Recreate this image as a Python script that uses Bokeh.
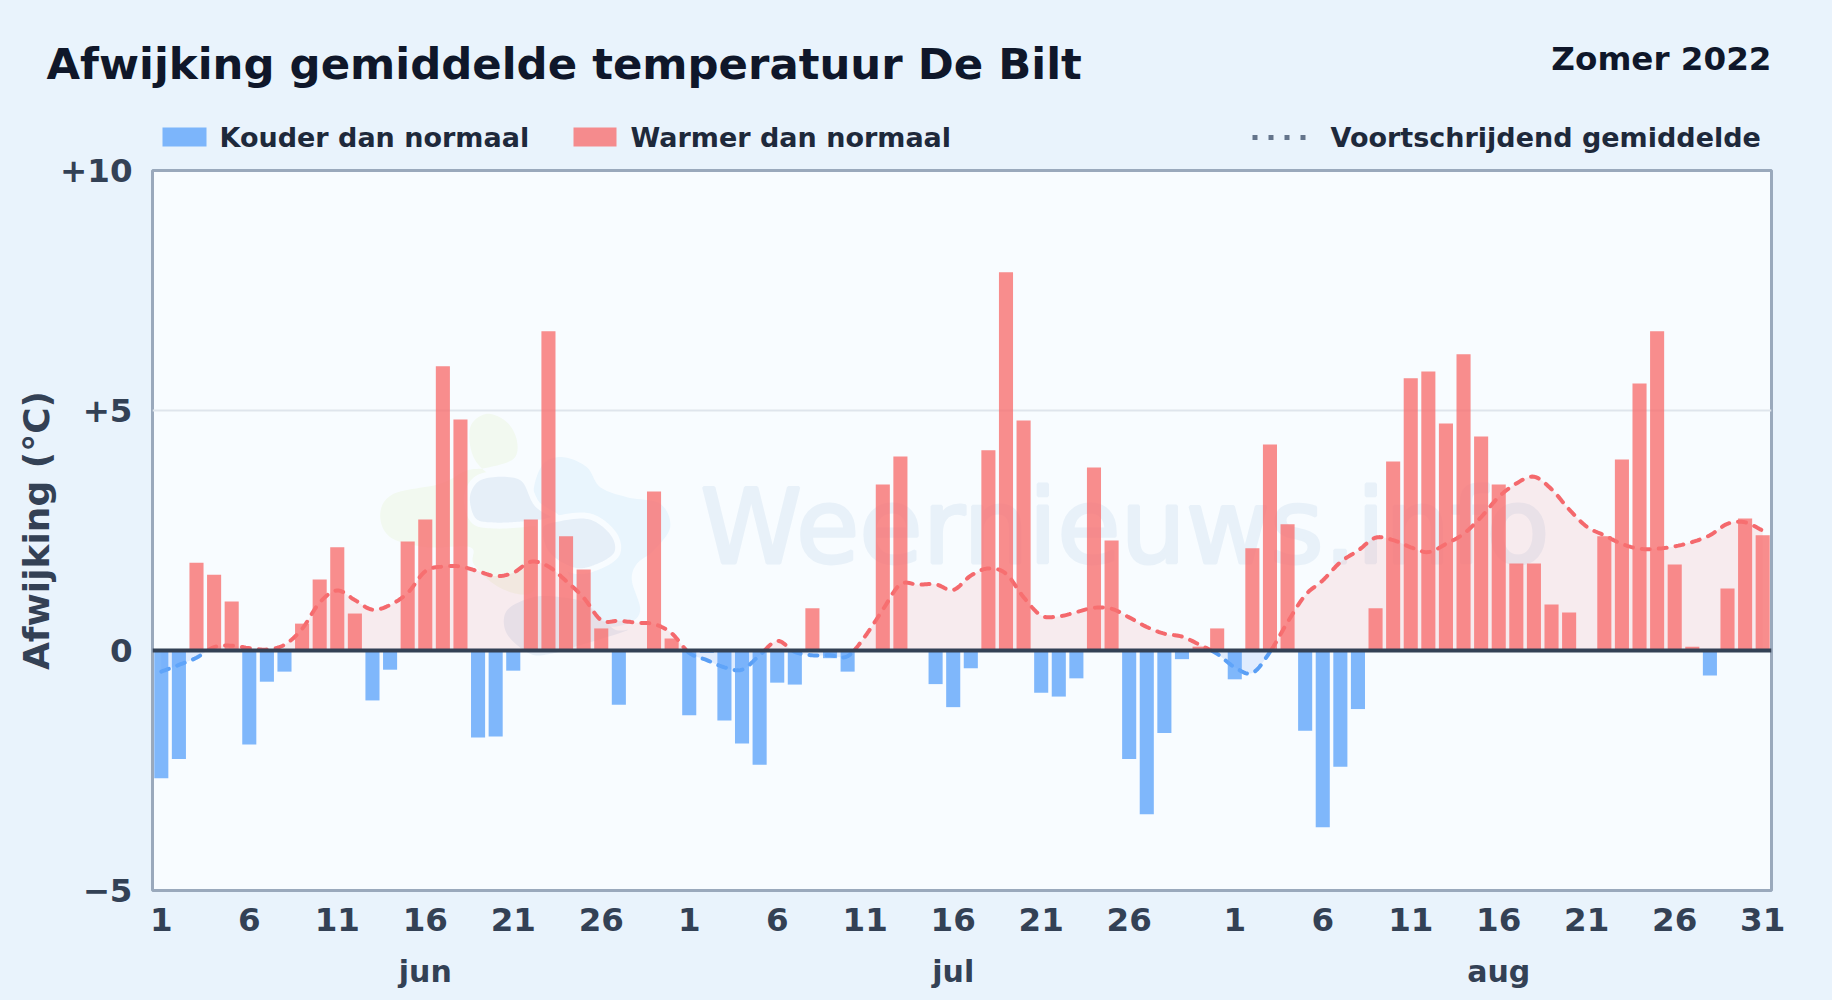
import numpy as np
from bokeh.plotting import figure
from bokeh.models import Range1d, FixedTicker, LinearAxis, Span, GlobalInlineStyleSheet
from bokeh.core.properties import value
from bokeh.embed import file_html
from bokeh.resources import INLINE

# ---- data: deviation per day, 1 jun .. 31 aug 2022 ----
afwijking = [
    -2.66, -2.26, 1.83, 1.58, 1.02, -1.96, -0.65, -0.44, 0.56, 1.48,
    2.15, 0.77, -1.04, -0.40, 2.27, 2.73, 5.92, 4.81, -1.81, -1.79,
    -0.42, 2.73, 6.65, 2.38, 1.69, 0.46, -1.13, 0.0, 3.31, 0.25,
    -1.35, -0.05, -1.46, -1.94, -2.38, -0.67, -0.71, 0.88, -0.16, -0.44,
    0.0, 3.46, 4.04, 0.0, -0.70, -1.18, -0.37, 4.17, 7.88, 4.79,
    -0.88, -0.96, -0.58, 3.81, 2.29, -2.26, -3.41, -1.72, -0.18, 0.08,
    0.46, -0.60, 2.13, 4.29, 2.63, -1.67, -3.68, -2.42, -1.22, 0.88,
    3.94, 5.67, 5.81, 4.73, 6.17, 4.46, 3.46, 1.81, 1.81, 0.96,
    0.79, 0.0, 2.38, 3.98, 5.56, 6.65, 1.79, 0.08, -0.52, 1.29,
    2.75, 2.40]
gemiddelde = [
    -0.44, -0.30, -0.15, 0.07, 0.10, 0.05, 0.02, 0.12, 0.45, 1.00,
    1.25, 1.05, 0.85, 0.95, 1.20, 1.65, 1.75, 1.75, 1.65, 1.55,
    1.62, 1.85, 1.75, 1.45, 1.10, 0.63, 0.62, 0.58, 0.55, 0.36,
    -0.05, -0.20, -0.35, -0.40, -0.10, 0.20, -0.03, -0.10, -0.10, -0.12,
    0.30, 0.85, 1.38, 1.37, 1.38, 1.26, 1.56, 1.71, 1.60, 1.11,
    0.73, 0.71, 0.80, 0.89, 0.87, 0.69, 0.49, 0.35, 0.29, 0.12,
    -0.07, -0.35, -0.47, -0.03, 0.59, 1.15, 1.46, 1.84, 2.08, 2.35,
    2.30, 2.15, 2.05, 2.22, 2.43, 2.78, 3.20, 3.48, 3.62, 3.36,
    2.94, 2.58, 2.40, 2.22, 2.12, 2.12, 2.17, 2.26, 2.40, 2.64,
    2.67, 2.50]
dag_tick_posities = [0, 5, 10, 15, 20, 25, 30, 35, 40, 45, 50, 55, 61, 66, 71, 76, 81, 86, 91]
dag_tick_labels = ["1", "6", "11", "16", "21", "26", "1", "6", "11", "16", "21", "26",
                   "1", "6", "11", "16", "21", "26", "31"]
maand_posities = [15, 45, 76]
maand_labels = ["jun", "jul", "aug"]
y_ticks = [-5, 0, 5, 10]
y_tick_labels = ["−5", "0", "+5", "+10"]
titel = "Afwijking gemiddelde temperatuur De Bilt"
seizoen = "Zomer 2022"
legenda = ["Kouder dan normaal", "Warmer dan normaal", "Voortschrijdend gemiddelde"]

F = "DejaVu Sans"
INK = "#0f172a"
AX = "#334155"
BLAUW = "#60a5fa"
ROOD = "#f87171"

css = GlobalInlineStyleSheet(css="html,body{background:#e9f3fc;overflow:hidden;}")

# ---- header: title and legend, coordinates are page pixels ----
HDR = 155      # header height
TOP = 130      # where the main figure's canvas begins (overlaps the header's empty lower edge)
h = figure(width=1832, height=HDR, x_range=Range1d(0, 1832), y_range=Range1d(HDR, 0),
           x_axis_location=None, y_axis_location=None, output_backend="svg", toolbar_location=None,
           min_border=0, background_fill_color=None, border_fill_color=None, outline_line_color=None)
h.grid.visible = False
h.stylesheets = [css]

def tekst(x, y, t, size, color, align="left"):
    h.text(x=[x], y=[y], text=[t], text_font=value(F), text_font_style="bold", text_font_size=size,
           text_color=color, text_baseline="middle", text_align=align)

tekst(46, 63, titel, "43.4px", INK)
tekst(1771, 58, seizoen, "32.6px", INK, "right")
h.quad(left=[162], right=[206], top=[127], bottom=[146], fill_color=BLAUW, fill_alpha=0.8, line_color=None)
h.quad(left=[573], right=[616], top=[127], bottom=[146], fill_color=ROOD, fill_alpha=0.8, line_color=None)
h.line([1252, 1305], [137, 137], line_color="#64748b", line_width=5, line_dash="5 11")
tekst(219, 137, legenda[0], "27px", "#1e293b")
tekst(630, 137, legenda[1], "27px", "#1e293b")
tekst(1330, 137, legenda[2], "27px", "#1e293b")

# ---- main chart ----
p = figure(width=1832, height=1000 - TOP, frame_width=1619, frame_height=720,
           x_range=Range1d(-0.5, 91.5), y_range=Range1d(-5, 10),
           output_backend="svg", toolbar_location=None,
           min_border_left=152, min_border_right=61, min_border_top=170 - TOP, min_border_bottom=110,
           background_fill_color="#f8fcff", border_fill_color=None,
           outline_line_color="#9aa9bc", outline_line_width=3)
p.margin = (TOP - HDR, 0, 0, 0)

def px_x(px): return (px - 152.25) / 17.6 - 0.5
def px_y(py): return (650 - py) / 48

p.xgrid.visible = False
p.ygrid.ticker = FixedTicker(ticks=[5])
p.ygrid.grid_line_color = "#dfe5ec"
p.ygrid.grid_line_width = 2

p.yaxis.ticker = FixedTicker(ticks=y_ticks)
p.yaxis.major_label_overrides = dict(zip(y_ticks, y_tick_labels))
p.xaxis.ticker = FixedTicker(ticks=dag_tick_posities)
p.xaxis.major_label_overrides = dict(zip(dag_tick_posities, dag_tick_labels))
for ax in (p.xaxis[0], p.yaxis[0]):
    ax.axis_line_color = None
    ax.major_tick_line_color = None
    ax.minor_tick_line_color = None
    ax.major_label_text_font = F
    ax.major_label_text_font_style = "bold"
    ax.major_label_text_font_size = "32.5px"
    ax.major_label_text_color = AX
p.yaxis.major_label_standoff = 14
p.xaxis.major_label_standoff = 11
p.yaxis.axis_label = "Afwijking (°C)"
p.yaxis.axis_label_text_font = F
p.yaxis.axis_label_text_font_style = "bold"
p.yaxis.axis_label_text_font_size = "36px"
p.yaxis.axis_label_text_color = AX
p.yaxis.axis_label_standoff = 0

ax2 = LinearAxis(ticker=FixedTicker(ticks=maand_posities),
                 major_label_overrides=dict(zip(maand_posities, maand_labels)),
                 axis_line_color=None, major_tick_line_color=None, minor_tick_line_color=None,
                 major_label_text_font=F, major_label_text_font_style="bold",
                 major_label_text_font_size="30px", major_label_text_color=AX,
                 major_label_standoff=14)
p.add_layout(ax2, "below")

# ---- watermark (decoration) ----
def zx(X): return px_x(360 + np.asarray(X) / 3)
def zy(Y): return px_y(390 + np.asarray(Y) / 3)

def closed_spline(pts, n=10):
    pts = np.asarray(pts, float)
    m = len(pts)
    out = []
    for i in range(m):
        p0, p1, p2, p3 = pts[(i - 1) % m], pts[i], pts[(i + 1) % m], pts[(i + 2) % m]
        for t in np.linspace(0, 1, n, endpoint=False):
            out.append(0.5 * (2 * p1 + (p2 - p0) * t + (2 * p0 - 5 * p1 + 4 * p2 - p3) * t ** 2
                              + (3 * p1 - p0 - 3 * p2 + p3) * t ** 3))
    return np.array(out)

blobs = [
    ("#f2f9f0", None, [(380, 70), (440, 95), (470, 150), (460, 205), (380, 232), (320, 240), (240, 280),
                       (100, 310), (60, 370), (90, 440), (200, 470), (330, 470), (340, 520), (400, 580),
                       (470, 610), (520, 600), (530, 520), (530, 430), (500, 300), (400, 260), (340, 200), (330, 110)]),
    ("#e9f5fd", None, [(610, 200), (680, 230), (720, 290), (800, 320), (900, 340), (930, 410), (880, 480),
                       (830, 520), (815, 570), (840, 660), (800, 700), (720, 700), (650, 600), (600, 500),
                       (530, 400), (520, 300), (550, 220)]),
    ("#e6eff8", "#f8fcff", [(420, 250), (490, 265), (530, 340), (590, 385), (500, 400), (400, 405), (340, 390),
                            (320, 320), (350, 265)]),
    ("#e6eff8", "#f8fcff", [(590, 385), (690, 378), (760, 430), (770, 490), (710, 530), (640, 540), (560, 490), (540, 410)]),
    ("#e6eff8", None, [(520, 620), (440, 660), (440, 730), (510, 790), (570, 790), (640, 770), (800, 720),
                       (760, 715), (680, 640), (600, 620)]),
]
for kleur, rand, pts in blobs:
    s = closed_spline(pts)
    p.patch(zx(s[:, 0]), zy(s[:, 1]), fill_color=kleur, line_color=rand, line_width=6 if rand else 0)

p.text(x=[px_x(700)], y=[px_y(526)], text=["Weernieuws.info"],
       text_font=value("DejaVu Sans"), text_font_size="103px",
       text_color="#e8f1f9", text_outline_color="#e8f1f9", text_baseline="middle", text_align="left")

# ---- moving average ----
def spline(ys, n=10):
    ys = np.asarray(ys, float)
    pts = np.r_[2 * ys[0] - ys[1], ys, 2 * ys[-1] - ys[-2]]
    xx, yy = [], []
    for i in range(len(ys) - 1):
        p0, p1, p2, p3 = pts[i:i + 4]
        for t in np.linspace(0, 1, n, endpoint=False):
            xx.append(i + t)
            yy.append(0.5 * (2 * p1 + (p2 - p0) * t + (2 * p0 - 5 * p1 + 4 * p2 - p3) * t ** 2
                             + (3 * p1 - p0 - 3 * p2 + p3) * t ** 3))
    xx.append(len(ys) - 1)
    yy.append(ys[-1])
    return np.array(xx), np.array(yy)

sx, sy = spline(gemiddelde)
p.varea(sx, np.maximum(sy, 0), 0, fill_color="#ef4444", fill_alpha=0.09)
p.varea(sx, np.minimum(sy, 0), 0, fill_color="#3b82f6", fill_alpha=0.13)
p.line(sx, np.where(sy >= 0, sy, np.nan), line_color="#f4696d", line_width=4, line_dash="8 9", line_cap="round")
p.line(sx, np.where(sy <= 0, sy, np.nan), line_color="#5a9ff5", line_width=4, line_dash="8 9", line_cap="round")

# ---- bars ----
dagen = np.arange(len(afwijking))
waarden = np.array(afwijking)
neg = waarden < 0
pos = waarden > 0
p.vbar(dagen[neg], width=0.8, top=0, bottom=waarden[neg], fill_color=BLAUW, fill_alpha=0.8, line_color=None)
p.vbar(dagen[pos], width=0.8, top=waarden[pos], bottom=0, fill_color=ROOD, fill_alpha=0.8, line_color=None)

p.add_layout(Span(location=0, dimension="width", line_color=AX, line_width=4))

open("out.html", "w").write(file_html([h, p], INLINE))
